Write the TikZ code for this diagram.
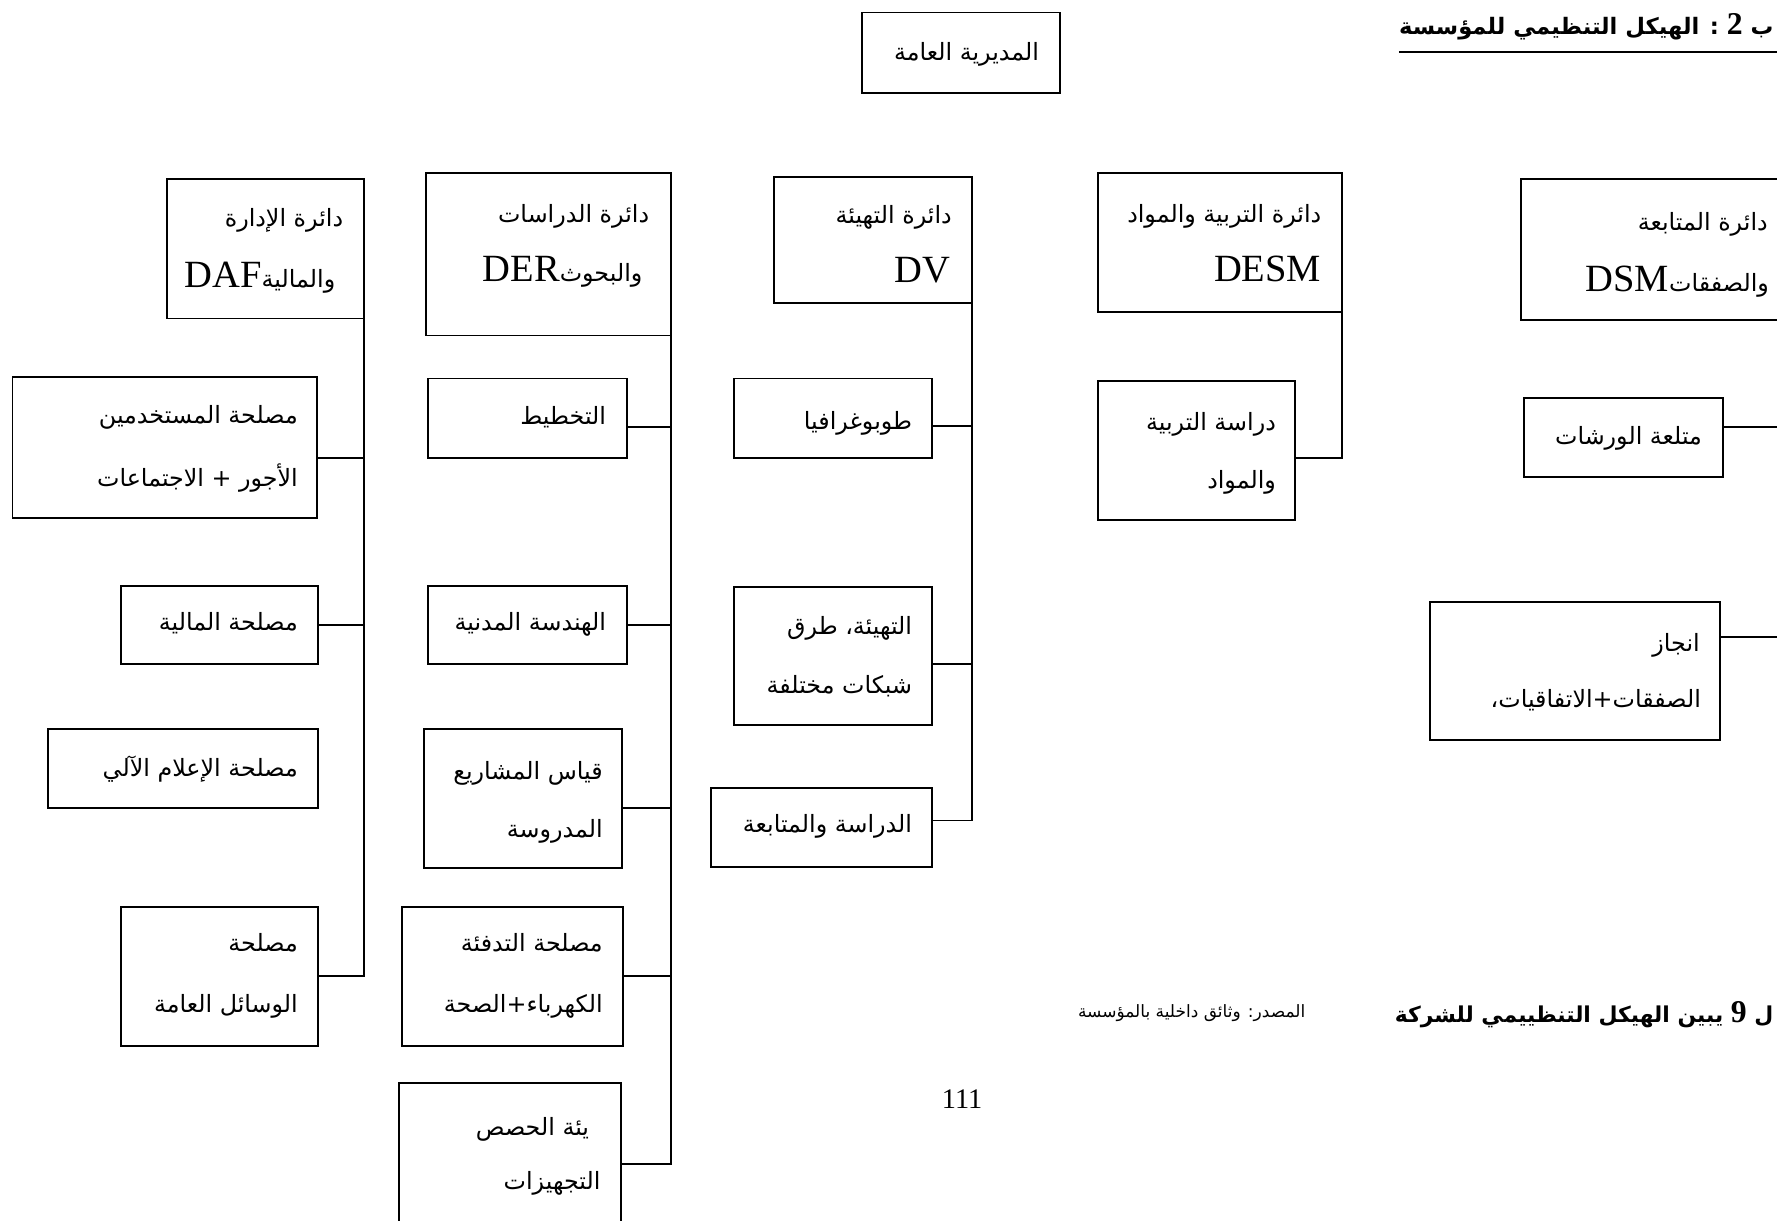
\documentclass[tikz,border=0pt]{standalone}
\usepackage{fontspec}
\setmainfont{Liberation Serif}
\newfontfamily\arabicfont[Script=Arabic]{DejaVu Sans}
\newfontfamily\latfont{Liberation Serif}
\TeXXeTstate=1
\usetikzlibrary{fit}
\newcommand\AR[1]{\beginR #1\endR}
\newcommand\LT[1]{\beginL #1\endL}
\newcommand\CODE[1]{{\latfont\fontsize{34}{40}\selectfont #1}}
\begin{document}
\begin{tikzpicture}[x=1pt,y=-1pt,
  bx/.style={draw,line width=1.7pt,inner sep=0pt,outer sep=0pt},
  ln/.style={line width=1.7pt},
  ar/.style={inner sep=0pt,anchor=base east,font=\arabicfont\fontsize{21}{25}\selectfont},
  code/.style={inner sep=0pt,anchor=base east,font=\latfont\fontsize{34}{40}\selectfont},
]
\useasboundingbox (0,0) rectangle (1568,1077);
\clip (0,0) rectangle (1568,1077);

% boxes
\node[bx,fit={(761,11)(935,82)}] (gm) {};
\node[bx,fit={(147,158)(321,281)}] (daf) {};
\node[bx,fit={(376,153)(592,296)}] (der) {};
\node[bx,fit={(683,156)(858,267)}] (dv) {};
\node[bx,fit={(969,153)(1184,275)}] (desm) {};
\node[bx,fit={(1342,158)(1578,282)}] (dsm) {};
\node[bx,fit={(11,333)(280,457)}] (spers) {};
\node[bx,fit={(107,517)(281,586)}] (sfin) {};
\node[bx,fit={(42,643)(281,713)}] (sinfo) {};
\node[bx,fit={(107,800)(281,923)}] (smeans) {};
\node[bx,fit={(378,334)(553,404)}] (rplan) {};
\node[bx,fit={(378,517)(553,586)}] (rcivil) {};
\node[bx,fit={(374,643)(549,766)}] (rmeas) {};
\node[bx,fit={(355,800)(550,923)}] (rheat) {};
\node[bx,fit={(352,956)(548,1098)}] (requip) {};
\node[bx,fit={(648,334)(822,404)}] (vtopo) {};
\node[bx,fit={(648,518)(822,640)}] (vamen) {};
\node[bx,fit={(627,695)(822,765)}] (vstudy) {};
\node[bx,fit={(969,336)(1143,459)}] (esoil) {};
\node[bx,fit={(1345,351)(1520,421)}] (mwork) {};
\node[bx,fit={(1262,531)(1518,653)}] (mdeals) {};

% texts
\node[ar] (gmt) at (917,53) {\AR{المديرية العامة}};
\node[ar] (daf1) at (303,200) {\AR{دائرة الإدارة}};
\node[ar] (daf2) at (296,254) {\AR{والمالية\LT{\CODE{DAF}}}};
\node[ar] (der1) at (573,196) {\AR{دائرة الدراسات}};
\node[ar] (der2) at (567,248.5) {\AR{والبحوث\LT{\CODE{DER}}}};
\node[ar] (dv1) at (840,197) {\AR{دائرة التهيئة}};
\node[code] (dv2) at (839,249) {DV};
\node[ar] (desm1) at (1166,196) {\AR{دائرة التربية والمواد}};
\node[code] (desm2) at (1166,248.5) {DESM};
\node[ar] (dsm1) at (1560,203) {\AR{دائرة المتابعة}};
\node[ar] (dsm2) at (1561,257) {\AR{والصفقات\LT{\CODE{DSM}}}};
\node[ar] (spers1) at (263,374) {\AR{مصلحة المستخدمين}};
\node[ar] (spers2) at (263,429) {\AR{الأجور + الاجتماعات}};
\node[ar] (sfin1) at (263,556) {\AR{مصلحة المالية}};
\node[ar] (sinfo1) at (263,685) {\AR{مصلحة الإعلام الآلي}};
\node[ar] (smeans1) at (263,840) {\AR{مصلحة}};
\node[ar] (smeans2) at (263,893) {\AR{الوسائل العامة}};
\node[ar] (rplan1) at (535,375) {\AR{التخطيط}};
\node[ar] (rcivil1) at (535,556) {\AR{الهندسة المدنية}};
\node[ar] (rmeas1) at (532,688) {\AR{قياس المشاريع}};
\node[ar] (rmeas2) at (532,739) {\AR{المدروسة}};
\node[ar] (rheat1) at (532,840) {\AR{مصلحة التدفئة}};
\node[ar] (rheat2) at (532,893) {\AR{الكهرباء+الصحة}};
\node[ar] (requip1) at (520,1002) {\AR{يئة الحصص}};
\node[ar] (requip2) at (530,1050) {\AR{التجهيزات}};
\node[ar] (vtopo1) at (805,379) {\AR{طوبوغرافيا}};
\node[ar] (vamen1) at (805,560) {\AR{التهيئة، طرق}};
\node[ar] (vamen2) at (805,612) {\AR{شبكات مختلفة}};
\node[ar] (vstudy1) at (805,735) {\AR{الدراسة والمتابعة}};
\node[ar] (esoil1) at (1126,379.5) {\AR{دراسة التربية}};
\node[ar] (esoil2) at (1126,431) {\AR{والمواد}};
\node[ar] (mwork1) at (1502,392) {\AR{متلعة الورشات}};
\node[ar] (mdeals1) at (1500,575) {\AR{انجاز}};
\node[ar] (mdeals2) at (1501,624) {\AR{الصفقات+الاتفاقيات،}};

% connectors
\draw[ln] (daf.south east) |- (smeans.east);
\draw[ln] ([yshift=-9pt]spers.east) -- ([yshift=-9pt]spers.east -| daf.east);
\draw[ln] (sfin.east) -- (sfin.east -| daf.east);

\draw[ln] (der.south east) |- (requip.east);
\draw[ln] ([yshift=-8pt]rplan.east) -- ([yshift=-8pt]rplan.east -| der.east);
\draw[ln] (rcivil.east) -- (rcivil.east -| der.east);
\draw[ln] ([yshift=-8.5pt]rmeas.east) -- ([yshift=-8.5pt]rmeas.east -| der.east);
\draw[ln] (rheat.east) -- (rheat.east -| der.east);

\draw[ln] (dv.south east) |- ([yshift=6pt]vstudy.east);
\draw[ln] ([yshift=-7pt]vtopo.east) -- ([yshift=-7pt]vtopo.east -| dv.east);
\draw[ln] ([yshift=-6.5pt]vamen.east) -- ([yshift=-6.5pt]vamen.east -| dv.east);

\draw[ln] (desm.south east) |- ([yshift=-6.5pt]esoil.east);

\draw[ln] (dsm.south east) |- ([yshift=30pt]mdeals.east);
\draw[ln] ([yshift=9pt]mwork.east) -- ([yshift=9pt]mwork.east -| dsm.east);

% title, caption, source, page number
\node[anchor=base east,inner sep=0pt,font=\arabicfont\bfseries\fontsize{20}{24}\selectfont] (title) at (1565,30)
  {\AR{ب \LT{{\latfont\bfseries\fontsize{28}{30}\selectfont 2}} : الهيكل التنظيمي للمؤسسة}};
\coordinate (ulend) at (1572,46);
\draw[line width=1.8pt] (title.base west |- ulend) -- (ulend);
\node[anchor=base east,inner sep=0pt,font=\arabicfont\bfseries\fontsize{19.3}{23}\selectfont] (caption) at (1565,902)
  {\AR{ل \LT{{\latfont\bfseries\fontsize{28}{30}\selectfont 9}} يبين الهيكل التنظييمي للشركة}};
\node[anchor=base east,inner sep=0pt,font=\arabicfont\fontsize{15}{18}\selectfont] (source) at (1152,898)
  {\AR{المصدر: وثائق داخلية بالمؤسسة}};
\node[inner sep=0pt,font=\latfont\fontsize{25}{30}\selectfont] (page) at (849,970) {111};
\end{tikzpicture}
\end{document}
